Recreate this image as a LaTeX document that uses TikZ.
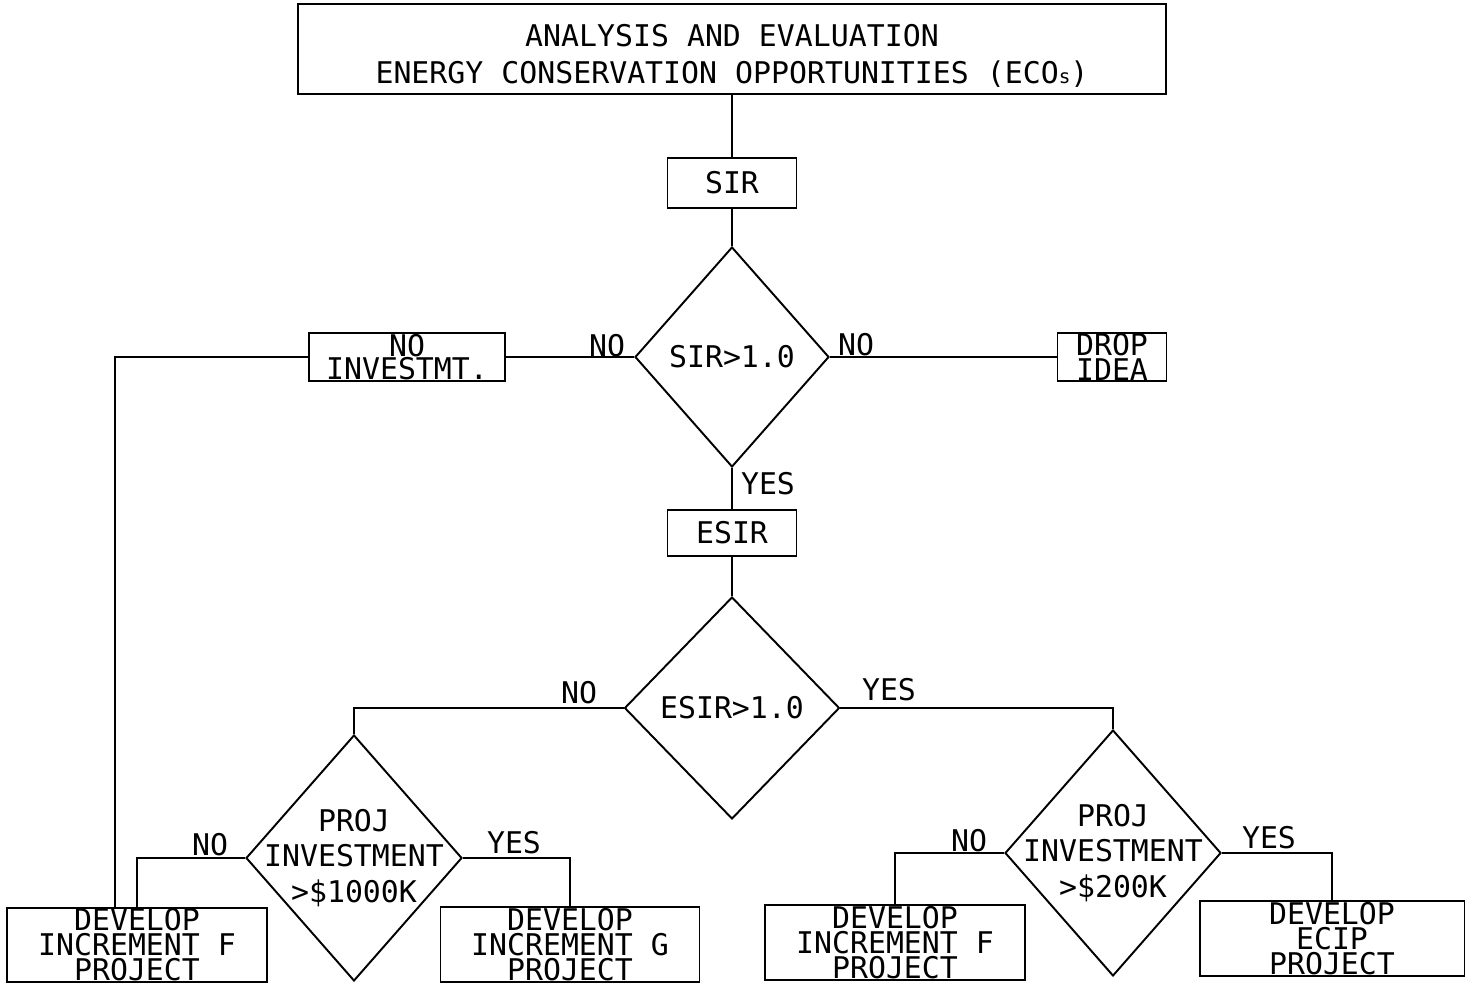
\documentclass[tikz,border=0pt]{standalone}
\usepackage{fontspec}
\usepackage{tikz}
\usetikzlibrary{shapes.geometric,positioning}
\newfontfamily\plotfont{DejaVu Sans Mono}
\newcommand{\plotsize}[1]{\plotfont\fontsize{17}{#1}\selectfont\lineskiplimit=-50pt\relax}

\begin{document}
\begin{tikzpicture}[x=0.02cm, y=-0.02cm, line width=1.1pt,
    stepbox/.style={draw, rectangle, inner sep=0pt, align=center, font={\plotsize{14.2}}},
    decision/.style={draw, diamond, inner sep=0pt, align=center, font={\plotsize{20}}},
    dtext/.style={inner sep=0pt, align=center, font={\plotsize{20}}},
    lbl/.style={inner sep=0pt, font={\plotsize{20}}}]
    \useasboundingbox (0,0) rectangle (1472,983);

    % Top of the chart
    \node[stepbox, minimum width=17.36cm, minimum height=1.8cm, font={\plotsize{21}}] (top) at (732,49)
        {\rule{0pt}{20.5pt}ANALYSIS AND EVALUATION\\ENERGY CONSERVATION OPPORTUNITIES (ECO{\fontsize{11}{11}\selectfont s})};
    \node[stepbox, minimum width=2.58cm, minimum height=1.0cm] (sir) at (732,183) {SIR};
    \node[decision, minimum width=3.88cm, minimum height=4.4cm] (sirtest) at (732,357) {SIR>1.0};
    \node[stepbox, minimum width=3.92cm, minimum height=0.96cm, font={\plotsize{13.2}}] (noinv) at (407,357) {NO\\INVESTMT.};
    \node[stepbox, minimum width=2.18cm, minimum height=0.96cm] (drop) at (1112,357) {DROP\\IDEA};

    % Middle
    \node[stepbox, minimum width=2.58cm, minimum height=0.92cm] (esir) at (732,533) {ESIR};
    \node[decision, minimum width=4.3cm, minimum height=4.44cm] (esirtest) at (732,708) {ESIR>1.0};

    % Investment tests
    \node[decision, minimum width=4.32cm, minimum height=4.92cm] (bigtest) at (354,858) {};
    \node[dtext] (bigtest_txt) at (bigtest.center) {PROJ\\INVESTMENT\\>\$1000K};
    \node[decision, minimum width=4.32cm, minimum height=4.92cm] (smalltest) at (1113,853) {};
    \node[dtext] (smalltest_txt) at (smalltest.center) {PROJ\\INVESTMENT\\>\$200K};

    % Projects
    \node[stepbox, minimum width=5.2cm, minimum height=1.48cm] (incf_left) at (137,945) {DEVELOP\\INCREMENT F\\PROJECT};
    \node[stepbox, minimum width=5.18cm, minimum height=1.5cm] (incg) at (570,944.5) {DEVELOP\\INCREMENT G\\PROJECT};
    \node[stepbox, minimum width=5.2cm, minimum height=1.5cm] (incf_right) at (895,942.5) {DEVELOP\\INCREMENT F\\PROJECT};
    \node[stepbox, minimum width=5.3cm, minimum height=1.5cm] (ecip) at (1332,938.5) {DEVELOP\\ECIP\\PROJECT};

    % Connectors
    \draw (top.south) -- (sir.north);
    \draw (sir.south) -- (sirtest.north);
    \draw (sirtest.west) -- (noinv.east);
    \draw (noinv.west) -| ([xshift=-0.44cm]incf_left.north);
    \draw (sirtest.east) -- (drop.west);
    \draw (sirtest.south) -- (esir.north);
    \draw (esir.south) -- (esirtest.north);
    \draw (esirtest.west) -| (bigtest.north);
    \draw (esirtest.east) -| (smalltest.north);
    \draw (bigtest.west) -| (incf_left.north);
    \draw (bigtest.east) -| (incg.north);
    \draw (smalltest.west) -| (incf_right.north);
    \draw (smalltest.east) -| (ecip.north);

    % Answers
    \node[lbl] (sir_no_l) at (607,346) {NO};
    \node[lbl] (sir_no_r) at (856,345) {NO};
    \node[lbl] (sir_yes) at (768,484) {YES};
    \node[lbl] (esir_no) at (579,693) {NO};
    \node[lbl] (esir_yes) at (889,690) {YES};
    \node[lbl] (big_no) at (210,845) {NO};
    \node[lbl] (big_yes) at (514,843) {YES};
    \node[lbl] (small_no) at (969,841) {NO};
    \node[lbl] (small_yes) at (1269,838) {YES};
\end{tikzpicture}
\end{document}
